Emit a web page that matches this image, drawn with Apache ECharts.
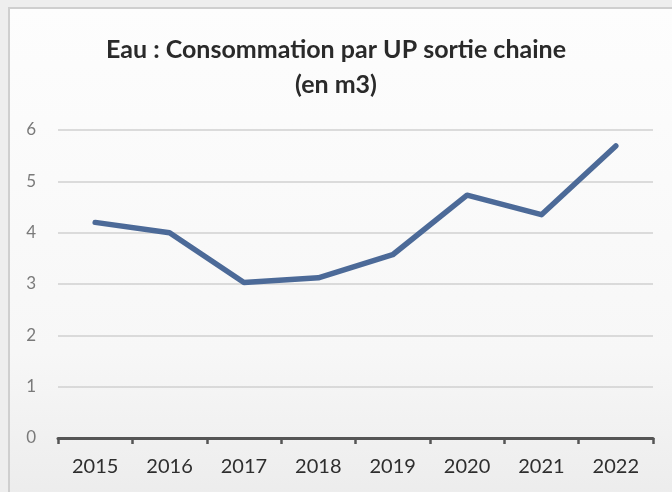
<!DOCTYPE html>
<html>
<head>
<meta charset="utf-8">
<script src="https://cdn.jsdelivr.net/npm/echarts@6/dist/echarts.min.js"></script>
<style>
  html, body { margin: 0; padding: 0; background: #f2f2f2; }
  #chart { width: 672px; height: 492px; }
</style>
</head>
<body>
<div id="chart"></div>
<script>
// Water consumption per produced unit (m3), yearly
const years = ['2015', '2016', '2017', '2018', '2019', '2020', '2021', '2022'];
const consumption = [4.2, 4.0, 3.03, 3.12, 3.57, 4.73, 4.35, 5.69];
const yTicks = [0, 1, 2, 3, 4, 5, 6];

const chart = echarts.init(document.getElementById('chart'), null, { renderer: 'canvas' });

chart.setOption({
  backgroundColor: '#eeeeee',
  animation: false,
  graphic: [
    {
      type: 'rect',
      z: -10,
      shape: { x: 9, y: 8, width: 672, height: 492 },
      style: {
        fill: new echarts.graphic.LinearGradient(0, 0, 0, 1, [
          { offset: 0, color: '#fdfdfd' },
          { offset: 0.7, color: '#f7f7f7' },
          { offset: 1, color: '#ececec' }
        ]),
        stroke: '#cfcfcf',
        lineWidth: 2
      }
    }
  ],
  title: {
    text: 'Eau : Consommation par UP sortie chaine\n(en m3)',
    left: 'center',
    top: 27,
    textStyle: {
      fontFamily: 'Lato',
      fontWeight: 'bold',
      fontSize: 25,
      lineHeight: 35,
      color: '#2a2a2a'
    }
  },
  grid: { left: 58, right: 19, top: 130, bottom: 54 },
  xAxis: {
    type: 'category',
    data: years,
    boundaryGap: true,
    axisLine: { lineStyle: { color: '#555555', width: 3 } },
    axisTick: { show: true, length: 6, inside: false, lineStyle: { color: '#555555', width: 2.5 } },
    axisLabel: {
      color: '#2e2e2e',
      fontFamily: 'Lato',
      fontSize: 20,
      margin: 19
    }
  },
  yAxis: {
    type: 'value',
    min: yTicks[0],
    max: yTicks[yTicks.length - 1],
    interval: 1,
    axisLine: { show: false },
    axisTick: { show: false },
    axisLabel: {
      color: '#7a7a7a',
      fontFamily: 'Lato',
      fontSize: 17,
      margin: 22
    },
    splitLine: { lineStyle: { color: '#d0d0d0', width: 1.5 } }
  },
  series: [
    {
      type: 'line',
      data: consumption,
      symbol: 'none',
      lineStyle: { color: '#4c6a98', width: 5.5, cap: 'round', join: 'round' }
    }
  ]
});
</script>
</body>
</html>
